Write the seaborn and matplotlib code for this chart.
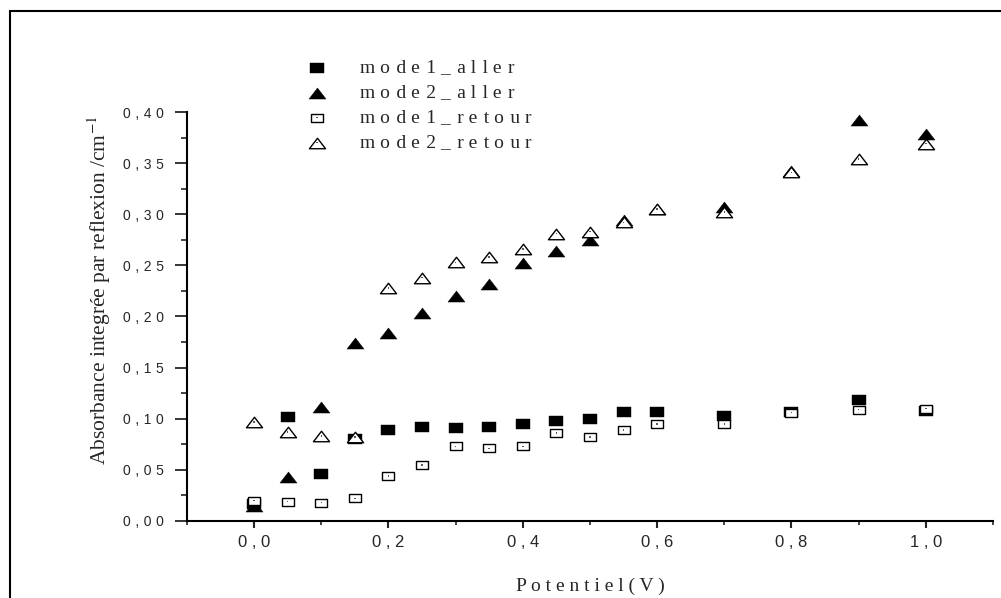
import numpy as np
import pandas as pd
import matplotlib
matplotlib.use("Agg")
import matplotlib.pyplot as plt
from matplotlib.path import Path
from matplotlib.patches import Rectangle
from matplotlib.ticker import FixedLocator, FuncFormatter
from matplotlib.legend_handler import HandlerTuple
import seaborn as sns

# ---- data -------------------------------------------------------------
potentiel = [0.0, 0.05, 0.1, 0.15, 0.2, 0.25, 0.3, 0.35, 0.4, 0.45,
             0.5, 0.55, 0.6, 0.7, 0.8, 0.9, 1.0]
mode1_aller = [0.017, 0.102, 0.046, 0.080, 0.089, 0.092, 0.091, 0.092, 0.095,
               0.098, 0.100, 0.107, 0.107, 0.103, 0.107, 0.118, 0.108]
mode2_aller = [0.015, 0.043, 0.111, 0.174, 0.184, 0.203, 0.220, 0.232, 0.252,
               0.264, 0.275, 0.294, 0.305, 0.307, 0.342, 0.392, 0.378]
mode1_retour = [0.020, 0.019, 0.018, 0.022, 0.044, 0.055, 0.073, 0.071, 0.073,
                0.086, 0.082, 0.089, 0.095, 0.095, 0.106, 0.109, 0.110]
mode2_retour = [0.097, 0.087, 0.083, 0.082, 0.228, 0.238, 0.253, 0.258, 0.266,
                0.281, 0.283, 0.292, 0.305, 0.302, 0.341, 0.354, 0.369]

series_names = ["mode1_aller", "mode2_aller", "mode1_retour", "mode2_retour"]
x_ticks = [0.0, 0.2, 0.4, 0.6, 0.8, 1.0]
y_ticks = [0.00, 0.05, 0.10, 0.15, 0.20, 0.25, 0.30, 0.35, 0.40]

df = pd.DataFrame({
    "Potentiel": potentiel * 4,
    "Absorbance": mode1_aller + mode2_aller + mode1_retour + mode2_retour,
    "serie": np.repeat(series_names, len(potentiel)),
})

# ---- styling ----------------------------------------------------------
sns.set_style("white")
plt.rcParams["font.family"] = ["Liberation Serif", "DejaVu Serif"]
plt.rcParams["mathtext.fontset"] = "stix"

WIDE = "\u2004"          # three-per-em space for the tick labels


def spaced(s, gap=" "):
    return gap.join(s)


def letterspaced(s):
    # alternate a plain space and a slightly wider gap between letters
    out = s[0]
    for i, ch in enumerate(s[1:]):
        out += (" " if i % 2 == 0 else " \u200a") + ch
    return out


# flat rectangle and flat triangle markers
square = Path([(-1, -0.69), (1, -0.69), (1, 0.69), (-1, 0.69), (-1, -0.69)],
              [Path.MOVETO, Path.LINETO, Path.LINETO, Path.LINETO, Path.CLOSEPOLY])
triangle = Path([(-1, -0.65), (1, -0.65), (0, 0.65), (-1, -0.65)],
                [Path.MOVETO, Path.LINETO, Path.LINETO, Path.CLOSEPOLY])

styles = {
    "mode1_aller":  dict(marker=square,   s=92,  color="black", edgecolor="black", linewidth=0.3),
    "mode2_aller":  dict(marker=triangle, s=150, color="black", edgecolor="black", linewidth=0.3),
    "mode1_retour": dict(marker=square,   s=76,  color="white", edgecolor="black", linewidth=1.0),
    "mode2_retour": dict(marker=triangle, s=135, color="white", edgecolor="black", linewidth=1.0),
}

fig = plt.figure(figsize=(10.01, 5.98), dpi=100)
ax = fig.add_axes([0.1868, 0.1288, 0.8052, 0.6839])

handles = []
for name in series_names:
    sub = df[df["serie"] == name]
    sns.scatterplot(data=sub, x="Potentiel", y="Absorbance", ax=ax,
                    label=name, zorder=3, **styles[name])
    h = ax.collections[-1]
    if styles[name]["color"] == "white":
        # small centre dot of the open symbols
        sns.scatterplot(data=sub, x="Potentiel", y="Absorbance", ax=ax,
                        marker="s", s=1.2, color="0.35", edgecolor="none",
                        zorder=4, legend=False)
        h = (h, ax.collections[-1])
    handles.append(h)

ax.set_xlim(-0.1, 1.1)
ax.set_ylim(0.0, 0.40)

# axes: only left and bottom spines
for side in ("top", "right"):
    ax.spines[side].set_visible(False)
for side in ("left", "bottom"):
    ax.spines[side].set_linewidth(1.5)
    ax.spines[side].set_color("black")

ax.xaxis.set_major_locator(FixedLocator(x_ticks))
ax.xaxis.set_minor_locator(FixedLocator([-0.1, 0.1, 0.3, 0.5, 0.7, 0.9, 1.1]))
ax.yaxis.set_major_locator(FixedLocator(y_ticks))
ax.yaxis.set_minor_locator(FixedLocator([0.025 + 0.05 * i for i in range(8)]))

ax.xaxis.set_major_formatter(
    FuncFormatter(lambda v, p: spaced(f"{v:.1f}".replace(".", ","))))
ax.yaxis.set_major_formatter(
    FuncFormatter(lambda v, p: spaced(f"{v:.2f}".replace(".", ","), WIDE)))

ax.tick_params(axis="x", which="major", direction="out", length=5, width=1.5,
               pad=5, labelsize=12, bottom=True)
ax.tick_params(axis="x", which="minor", direction="out", length=3, width=1.2, bottom=True)
ax.tick_params(axis="y", which="major", direction="out", length=8.5, width=1.3,
               pad=8, labelsize=10, left=True)
ax.tick_params(axis="y", which="minor", direction="out", length=4.5, width=1.2, left=True)
for lab in ax.get_xticklabels() + ax.get_yticklabels():
    lab.set_fontfamily(["Liberation Sans", "DejaVu Sans"])

ax.set_xlabel(spaced("Potentiel(V)"), fontsize=14)
ax.xaxis.set_label_coords(0.5, -0.138)
ax.set_ylabel(r"Absorbance integrée par reflexion /cm$^{\mathrm{-1}}$", fontsize=15.5)
ax.yaxis.set_label_coords(-0.092, 0.565)

leg = ax.legend(handles, [letterspaced(n) for n in series_names],
                handler_map={tuple: HandlerTuple(ndivide=1)},
                loc="upper left", bbox_to_anchor=(297.5 / 1001, 1 - 59 / 598),
                bbox_transform=fig.transFigure, frameon=False, fontsize=14,
                borderpad=0, borderaxespad=0, handlelength=2.0,
                handletextpad=1.2, labelspacing=0.38, scatterpoints=1)

# outer frame of the figure
fig.add_artist(Rectangle((0.0095, -0.05), 1.1, 1.0316, transform=fig.transFigure,
                         fill=False, edgecolor="black", linewidth=1.5))

fig.savefig("out.png", dpi=100)
